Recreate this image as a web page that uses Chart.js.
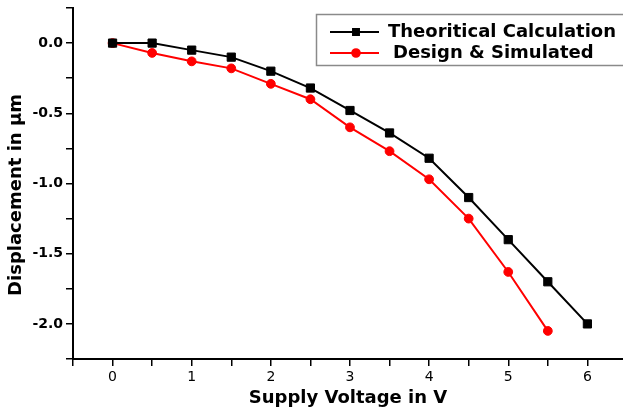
<!DOCTYPE html>
<html>
<head>
<meta charset="utf-8">
<script src="https://cdn.jsdelivr.net/npm/chart.js@4.4.1/dist/chart.umd.min.js"></script>
<style>
  html, body { margin: 0; padding: 0; background: #fff; }
  #wrap { width: 623px; height: 410px; }
</style>
</head>
<body>
<div id="wrap"><canvas id="dispChart" width="623" height="410"></canvas></div>
<script>
const voltage = [0, 0.5, 1, 1.5, 2, 2.5, 3, 3.5, 4, 4.5, 5, 5.5, 6]
const theoretical = [0, 0, -0.05, -0.1, -0.2, -0.32, -0.48, -0.64, -0.82, -1.1, -1.4, -1.7, -2.0]
const simulated = [0, -0.07, -0.13, -0.18, -0.29, -0.4, -0.6, -0.77, -0.97, -1.25, -1.63, -2.05]
const seriesNames = ['Theoritical Calculation', 'Design & Simulated']

const toPoints = (ys) => ys.map((y, i) => ({ x: voltage[i], y: y }))

// boxed legend inside the plot, plus the rotated y title
const boxLegend = {
    id: 'boxLegend',
    afterDraw(chart) {
        const ctx = chart.ctx
        ctx.save()
        ctx.strokeStyle = '#8a8a8a'
        ctx.lineWidth = 1.5
        ctx.strokeRect(316.5, 14.5, 320, 51)

        const rows = [
            { y: 32, textX: 388, ds: chart.data.datasets[0] },
            { y: 53, textX: 393, ds: chart.data.datasets[1] },
        ]
        ctx.font = 'bold 18px "DejaVu Sans"'
        ctx.textBaseline = 'middle'
        ctx.textAlign = 'left'
        rows.forEach(r => {
            ctx.strokeStyle = r.ds.borderColor
            ctx.lineWidth = 2
            ctx.beginPath()
            ctx.moveTo(330, r.y)
            ctx.lineTo(379, r.y)
            ctx.stroke()
            ctx.fillStyle = r.ds.borderColor
            Chart.helpers.drawPoint(ctx, {
                pointStyle: r.ds.pointStyle,
                radius: r.ds.pointStyle === 'rect' ? 4.2 : 3.8,
                borderWidth: 1,
            }, 356, r.y)
            ctx.fill()
            ctx.fillStyle = '#000'
            ctx.fillText(r.ds.label, r.textX, r.y)
        })

        ctx.translate(16, 195)
        ctx.rotate(-Math.PI / 2)
        ctx.textAlign = 'center'
        ctx.fillText('Displacement in \u03bcm', 0, 0)
        ctx.restore()
    }
}

const context = document.getElementById('dispChart').getContext('2d')

new Chart(context, {
    type: 'line',
    data: {
        datasets: [
            {
                label: seriesNames[0],
                data: toPoints(theoretical),
                borderColor: '#000000',
                backgroundColor: '#000000',
                borderWidth: 2,
                pointStyle: 'rect',
                pointRadius: 5.8,
                pointBorderWidth: 1,
                tension: 0,
            },
            {
                label: seriesNames[1],
                data: toPoints(simulated),
                borderColor: '#ff0000',
                backgroundColor: '#ff0000',
                borderWidth: 2,
                pointStyle: 'circle',
                pointRadius: 4.4,
                pointBorderWidth: 1,
                tension: 0,
            }
        ]
    },
    options: {
        responsive: false,
        animation: false,
        layout: { autoPadding: false, padding: { top: 8, left: 0, right: 0, bottom: 0 } },
        plugins: {
            legend: { display: false },
            tooltip: { enabled: false },
        },
        scales: {
            x: {
                type: 'linear',
                min: -0.5,
                max: 6.45,
                afterFit: (scale) => {
                    scale.height = 51
                    scale.paddingLeft = 0
                    scale.paddingRight = 0
                },
                border: { display: true, color: '#000', width: 2 },
                grid: { drawOnChartArea: false, drawTicks: true, tickLength: 7, color: '#000', lineWidth: 1.5 },
                ticks: {
                    stepSize: 0.5,
                    includeBounds: false,
                    maxRotation: 0,
                    autoSkip: false,
                    padding: 3,
                    color: '#000',
                    font: { family: 'DejaVu Sans', size: 14 },
                    callback: (v) => Math.abs(v - Math.round(v)) < 1e-6 ? String(Math.round(v)) : '',
                },
                title: {
                    display: true,
                    text: 'Supply Voltage in V',
                    color: '#000',
                    font: { family: 'DejaVu Sans', size: 18, weight: 'bold' },
                    padding: { top: 0, bottom: 1 },
                },
            },
            y: {
                type: 'linear',
                min: -2.25,
                max: 0.25,
                afterFit: (scale) => {
                    scale.width = 73
                    scale.paddingTop = 0
                    scale.paddingBottom = 0
                },
                border: { display: true, color: '#000', width: 2 },
                grid: { drawOnChartArea: false, drawTicks: true, tickLength: 7, color: '#000', lineWidth: 1.5 },
                ticks: {
                    stepSize: 0.25,
                    includeBounds: false,
                    autoSkip: false,
                    padding: 3,
                    color: '#000',
                    font: { family: 'DejaVu Sans', size: 14, weight: 'bold' },
                    callback: (v) => Math.abs(v * 2 - Math.round(v * 2)) < 1e-6 ? v.toFixed(1) : '',
                },
            },
        },
    },
    plugins: [boxLegend],
})
</script>
</body>
</html>
